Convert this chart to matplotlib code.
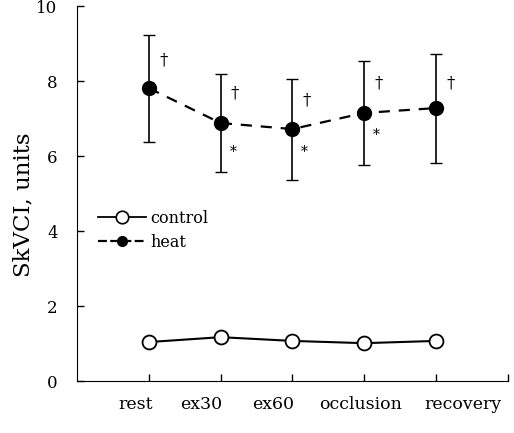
import numpy as np
import matplotlib.pyplot as plt
from matplotlib.lines import Line2D

# condiciones del protocolo
conditions = ['rest', 'ex30', 'ex60', 'occlusion', 'recovery']

# SkVCI (units)
control = [1.04, 1.17, 1.07, 1.01, 1.07]
heat = [7.81, 6.88, 6.72, 7.15, 7.28]
heat_err_low = [1.44, 1.31, 1.36, 1.39, 1.47]
heat_err_high = [1.42, 1.31, 1.33, 1.38, 1.44]

# marcas de significancia
dagger_y = [8.56, 7.68, 7.49, 7.95, 7.95]
star_idx = [1, 2, 3]
star_y = [6.1, 6.1, 6.56]

plt.rcParams['font.family'] = 'DejaVu Serif'

fig = plt.figure(figsize=(5.14, 4.33), dpi=100)
ax = fig.add_axes([0.15, 0.12, 0.838, 0.866])

x = np.arange(1, len(conditions) + 1)

ax.plot(x, control, color='black', linewidth=1.5, marker='o', markersize=10,
        markerfacecolor='white', markeredgecolor='black', markeredgewidth=1.3,
        zorder=3)
ax.errorbar(x, heat, yerr=[heat_err_low, heat_err_high], color='black',
            linewidth=1.6, linestyle=(0, (5, 4)), marker='o', markersize=10,
            markerfacecolor='black', elinewidth=1.2, capsize=4.5, capthick=1.0,
            zorder=3)

for xi, yi in zip(x, dagger_y):
    ax.text(xi + 0.2, yi, '†', fontsize=12, ha='center', va='center')
for i, yi in zip(star_idx, star_y):
    ax.text(x[i] + 0.17, yi, '*', fontsize=10, ha='center', va='center')

ax.set_xlim(0, 6)
ax.set_ylim(0, 10)
ax.set_xticks(list(x) + [6])
ax.set_xticklabels([])
# etiquetas del eje x desplazadas como en el original
label_shift = [-0.18, -0.27, -0.27, -0.05, 0.37]
for xi, lab, dx in zip(x, conditions, label_shift):
    ax.text(xi + dx, -0.62, lab, fontsize=12.5, ha='center', va='center',
            transform=ax.transData)
ax.set_yticks([0, 2, 4, 6, 8, 10])
ax.set_yticklabels(['0', '2', '4', '6', '8', '10'], fontsize=12)
ax.tick_params(axis='both', direction='in', length=5, width=1)
ax.tick_params(axis='y', pad=14)
ax.spines['top'].set_visible(False)
ax.spines['right'].set_visible(False)
ax.set_ylabel('SkVCI, units', fontsize=16.5)
ax.yaxis.set_label_coords(-0.1, 0.47)

handles = [
    Line2D([], [], color='black', linewidth=1.3, marker='o', markersize=9,
           markerfacecolor='white', markeredgewidth=1.2),
    Line2D([], [], color='black', linewidth=1.6, linestyle=(0, (4, 1.5)),
           marker='o', markersize=7, markerfacecolor='black'),
]
ax.legend(handles, ['control', 'heat'], loc='upper left',
          bbox_to_anchor=(0.015, 0.495), frameon=False, fontsize=11.5,
          handlelength=3.0, handletextpad=0.3, labelspacing=0.45)

fig.savefig('out.png', dpi=100)
